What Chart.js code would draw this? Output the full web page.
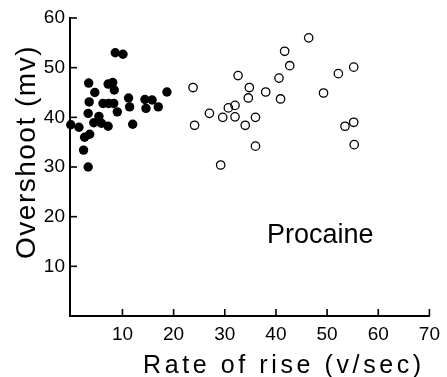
<!DOCTYPE html>
<html>
<head>
<meta charset="utf-8">
<script src="https://cdn.jsdelivr.net/npm/chart.js@4"></script>
<style>
html,body{margin:0;padding:0;background:#fff;}
#wrap{width:447px;height:377px;}
</style>
</head>
<body>
<div id="wrap"><canvas id="c" width="447" height="377"></canvas></div>
<script>
// Filled circles (x: rate of rise v/sec, y: overshoot mv)
const filledX = [-0.1, 1.5, 2.4, 2.6, 3.3, 3.6, 3.3, 3.5, 3.4, 4.6, 4.4, 5.4, 5.9, 6.2, 7.2, 7.2, 7.3, 8.1, 8.4, 8.3, 8.6, 10.1, 9.0, 11.2, 11.4, 12.0, 14.4, 15.8, 14.6, 17.0, 18.7];
const filledY = [38.5, 38.0, 33.4, 36.0, 30.0, 36.6, 40.8, 43.1, 46.9, 45.0, 38.9, 40.2, 38.8, 42.8, 38.2, 46.7, 42.8, 47.0, 45.5, 42.8, 53.0, 52.7, 41.1, 43.9, 42.1, 38.6, 43.6, 43.5, 41.8, 42.1, 45.1];
// Open circles (procaine)
const openX = [46.4, 41.7, 42.7, 55.2, 52.2, 32.6, 40.6, 23.8, 34.8, 38.0, 49.3, 34.6, 40.9, 32.0, 30.7, 27.0, 29.6, 32.0, 36.0, 34.0, 24.1, 55.2, 53.5, 55.3, 36.0, 29.2];
const openY = [56.0, 53.3, 50.4, 50.1, 48.8, 48.4, 47.9, 46.0, 46.0, 45.1, 44.9, 43.9, 43.7, 42.4, 41.9, 40.8, 40.0, 40.1, 40.0, 38.4, 38.4, 39.0, 38.2, 34.5, 34.2, 30.4];
const xTicks = [10, 20, 30, 40, 50, 60, 70];
const yTicks = [10, 20, 30, 40, 50, 60];
const xTitle = "Rate of rise (v/sec)";
const yTitle = "Overshoot (mv)";
const note = "Procaine";

const toPts = (xs, ys) => xs.map((x, i) => ({x: x, y: ys[i]}));

const inwardTicks = {
  id: 'inwardTicks',
  afterDraw(chart) {
    const ctx = chart.ctx;
    const xs = chart.scales.x, ys = chart.scales.y;
    const area = chart.chartArea;
    ctx.save();
    ctx.strokeStyle = '#000';
    ctx.lineWidth = 1.6;
    xs.ticks.forEach(t => {
      const px = xs.getPixelForValue(t.value);
      ctx.beginPath(); ctx.moveTo(px, area.bottom); ctx.lineTo(px, area.bottom - 7); ctx.stroke();
    });
    ys.ticks.forEach(t => {
      const py = ys.getPixelForValue(t.value);
      ctx.beginPath(); ctx.moveTo(area.left, py); ctx.lineTo(area.left + 7, py); ctx.stroke();
    });
    ctx.fillStyle = '#000';
    // x title
    ctx.font = '25px "Liberation Sans", Arial, sans-serif';
    ctx.letterSpacing = '3.6px';
    ctx.textAlign = 'left';
    ctx.textBaseline = 'alphabetic';
    ctx.fillText(xTitle, 143, 373);
    // y title
    ctx.save();
    ctx.font = '28px "Liberation Sans", Arial, sans-serif';
    ctx.letterSpacing = '1.5px';
    ctx.translate(35, 152);
    ctx.rotate(-Math.PI / 2);
    ctx.textAlign = 'center';
    ctx.fillText(yTitle, 0, 0);
    ctx.restore();
    // annotation
    ctx.font = '27px "Liberation Sans", Arial, sans-serif';
    ctx.letterSpacing = '0px';
    ctx.textAlign = 'left';
    ctx.fillText(note, 267, 243);
    ctx.restore();
  }
};

new Chart(document.getElementById('c'), {
  type: 'scatter',
  data: {
    datasets: [
      {
        label: 'Control',
        data: toPts(filledX, filledY),
        clip: false,
        pointRadius: 4.7,
        pointBackgroundColor: '#000',
        pointBorderColor: '#000',
        pointBorderWidth: 0
      },
      {
        label: 'Procaine',
        data: toPts(openX, openY),
        clip: false,
        pointRadius: 4.2,
        pointBackgroundColor: 'rgba(255,255,255,0)',
        pointBorderColor: '#000',
        pointBorderWidth: 1.3
      }
    ]
  },
  options: {
    responsive: false,
    animation: false,
    devicePixelRatio: 1,
    layout: {padding: {left: 0, right: 14, top: 18, bottom: 0}},
    plugins: {legend: {display: false}, tooltip: {enabled: false}},
    scales: {
      x: {
        type: 'linear',
        min: -0.25,
        max: 70,
        grid: {display: false, drawTicks: false},
        border: {display: true, color: '#000', width: 2},
        afterBuildTicks: s => { s.ticks = xTicks.map(v => ({value: v})); },
        afterFit: s => { s.height = 61; },
        ticks: {
          color: '#000',
          padding: 7,
          maxRotation: 0,
          autoSkip: false,
          font: {family: '"Liberation Sans", Arial, sans-serif', size: 19}
        }
      },
      y: {
        type: 'linear',
        min: 0,
        max: 60,
        grid: {display: false, drawTicks: false},
        border: {display: true, color: '#000', width: 2},
        afterBuildTicks: s => { s.ticks = yTicks.map(v => ({value: v})); },
        afterFit: s => { s.width = 70; },
        ticks: {
          color: '#000',
          padding: 5,
          autoSkip: false,
          font: {family: '"Liberation Sans", Arial, sans-serif', size: 19}
        }
      }
    }
  },
  plugins: [inwardTicks]
});
</script>
</body>
</html>
